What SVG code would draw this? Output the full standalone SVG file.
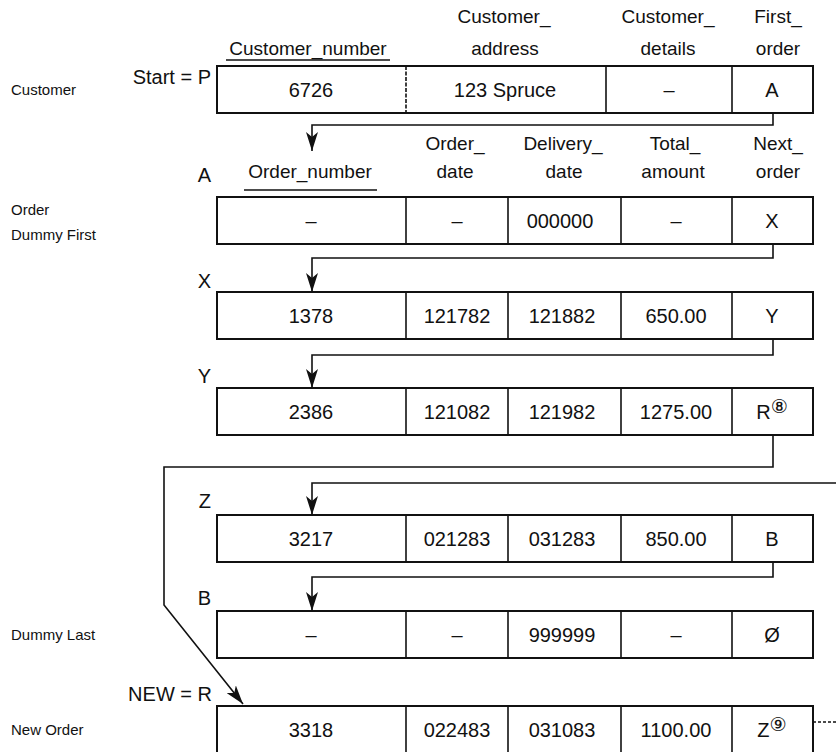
<svg xmlns="http://www.w3.org/2000/svg" width="836" height="752" viewBox="0 0 836 752">
<style>
text{font-family:"Liberation Sans",Arial,sans-serif;fill:#111}
.t{font-size:20px;text-anchor:middle}
.h{font-size:19px;text-anchor:middle}
.r{font-size:20px;text-anchor:end}
.l{font-size:15px}
.sup{font-family:"DejaVu Sans","Noto Sans CJK SC",sans-serif;font-size:19px}
.box{fill:#fff;stroke:#111;stroke-width:2}
.dv{stroke:#111;stroke-width:1.6}
.dash{stroke-dasharray:4 1.5}
.c{fill:none;stroke:#111;stroke-width:1.6}
</style>
<defs>
<marker id="av" markerUnits="userSpaceOnUse" markerWidth="20" markerHeight="12" viewBox="0 0 20 12" refX="19" refY="6" orient="auto">
<path d="M0,0 L19,6 L0,12 L5,6 Z" fill="#111"/>
</marker>
</defs>
<rect width="836" height="752" fill="#fff"/>

<g id="labels">
<text class="l" x="11" y="95">Customer</text>
<text class="l" x="11" y="215">Order</text>
<text class="l" x="11" y="240">Dummy First</text>
<text class="l" x="11" y="640">Dummy Last</text>
<text class="l" x="11" y="735">New Order</text>
</g>

<g id="customer-headers">
<text class="h" x="504" y="23">Customer_</text>
<text class="h" x="668" y="23">Customer_</text>
<text class="h" x="778" y="23">First_</text>
<text class="h" x="308" y="55">Customer_number</text>
<line class="dv" x1="226" y1="60" x2="390" y2="60"/>
<text class="h" x="505" y="55">address</text>
<text class="h" x="668" y="55">details</text>
<text class="h" x="778" y="55">order</text>
<text class="r" x="211" y="84">Start = P</text>
</g>

<g id="customer-P">
<rect class="box" x="217" y="66" width="596" height="47"/>
<line class="dv dash" x1="406" y1="66" x2="406" y2="113"/>
<line class="dv" x1="606" y1="66" x2="606" y2="113"/>
<line class="dv" x1="732" y1="66" x2="732" y2="113"/>
<text class="t" x="311" y="97">6726</text>
<text class="t" x="505" y="97">123 Spruce</text>
<text class="t" x="669" y="97">–</text>
<text class="t" x="772" y="97">A</text>
</g>

<g id="order-headers">
<text class="h" x="455" y="150">Order_</text>
<text class="h" x="563" y="150">Delivery_</text>
<text class="h" x="675" y="150">Total_</text>
<text class="h" x="778" y="150">Next_</text>
<text class="h" x="310" y="178">Order_number</text>
<line class="dv" x1="244" y1="190" x2="377" y2="190" stroke-width="1.2"/>
<text class="h" x="455" y="178">date</text>
<text class="h" x="564" y="178">date</text>
<text class="h" x="673" y="178">amount</text>
<text class="h" x="778" y="178">order</text>
<text class="r" x="211" y="182">A</text>
</g>

<g id="order-A">
<rect class="box" x="217" y="197" width="596" height="47"/>
<line class="dv" x1="406" y1="197" x2="406" y2="244"/>
<line class="dv" x1="508" y1="197" x2="508" y2="244"/>
<line class="dv" x1="621" y1="197" x2="621" y2="244"/>
<line class="dv" x1="732" y1="197" x2="732" y2="244"/>
<text class="t" x="311" y="228">–</text>
<text class="t" x="457" y="228">–</text>
<text class="t" x="560" y="228">000000</text>
<text class="t" x="676" y="228">–</text>
<text class="t" x="772" y="228">X</text>
</g>

<g id="order-X">
<text class="r" x="211" y="288">X</text>
<rect class="box" x="217" y="292" width="596" height="47"/>
<line class="dv" x1="406" y1="292" x2="406" y2="339"/>
<line class="dv" x1="508" y1="292" x2="508" y2="339"/>
<line class="dv" x1="621" y1="292" x2="621" y2="339"/>
<line class="dv" x1="732" y1="292" x2="732" y2="339"/>
<text class="t" x="311" y="323">1378</text>
<text class="t" x="457" y="323">121782</text>
<text class="t" x="562" y="323">121882</text>
<text class="t" x="676" y="323">650.00</text>
<text class="t" x="772" y="323">Y</text>
</g>

<g id="order-Y">
<text class="r" x="211" y="383">Y</text>
<rect class="box" x="217" y="388" width="596" height="47"/>
<line class="dv" x1="406" y1="388" x2="406" y2="435"/>
<line class="dv" x1="508" y1="388" x2="508" y2="435"/>
<line class="dv" x1="621" y1="388" x2="621" y2="435"/>
<line class="dv" x1="732" y1="388" x2="732" y2="435"/>
<text class="t" x="311" y="419">2386</text>
<text class="t" x="457" y="419">121082</text>
<text class="t" x="562" y="419">121982</text>
<text class="t" x="676" y="419">1275.00</text>
<text class="t" x="772" y="419">R<tspan class="sup" dy="-6">⑧</tspan></text>
</g>

<g id="order-Z">
<text class="r" x="211" y="508">Z</text>
<rect class="box" x="217" y="515" width="596" height="47"/>
<line class="dv" x1="406" y1="515" x2="406" y2="562"/>
<line class="dv" x1="508" y1="515" x2="508" y2="562"/>
<line class="dv" x1="621" y1="515" x2="621" y2="562"/>
<line class="dv" x1="732" y1="515" x2="732" y2="562"/>
<text class="t" x="311" y="546">3217</text>
<text class="t" x="457" y="546">021283</text>
<text class="t" x="562" y="546">031283</text>
<text class="t" x="676" y="546">850.00</text>
<text class="t" x="772" y="546">B</text>
</g>

<g id="order-B">
<text class="r" x="211" y="605">B</text>
<rect class="box" x="217" y="611" width="596" height="47"/>
<line class="dv" x1="406" y1="611" x2="406" y2="658"/>
<line class="dv" x1="508" y1="611" x2="508" y2="658"/>
<line class="dv" x1="621" y1="611" x2="621" y2="658"/>
<line class="dv" x1="732" y1="611" x2="732" y2="658"/>
<text class="t" x="311" y="642">–</text>
<text class="t" x="457" y="642">–</text>
<text class="t" x="562" y="642">999999</text>
<text class="t" x="676" y="642">–</text>
<text class="t" x="772" y="642">Ø</text>
</g>

<g id="order-R">
<text class="r" x="212" y="701">NEW = R</text>
<rect class="box" x="217" y="706" width="596" height="50"/>
<line class="dv" x1="406" y1="706" x2="406" y2="752"/>
<line class="dv" x1="508" y1="706" x2="508" y2="752"/>
<line class="dv" x1="621" y1="706" x2="621" y2="752"/>
<line class="dv" x1="732" y1="706" x2="732" y2="752"/>
<text class="t" x="311" y="737">3318</text>
<text class="t" x="457" y="737">022483</text>
<text class="t" x="562" y="737">031083</text>
<text class="t" x="676" y="737">1100.00</text>
<text class="t" x="772" y="737">Z<tspan class="sup" dy="-6">⑨</tspan></text>
</g>

<g id="connectors">
<path class="c" d="M773,113 V125 H312 V151" marker-end="url(#av)"/>
<path class="c" d="M773,244 V258 H312 V292" marker-end="url(#av)"/>
<path class="c" d="M773,339 V355 H312 V388" marker-end="url(#av)"/>
<path class="c" d="M773,435 V467 H164 V605 L243,704" marker-end="url(#av)"/>
<path class="c" d="M836,483 H312 V515" marker-end="url(#av)"/>
<path class="c" d="M773,562 V577 H312 V611" marker-end="url(#av)"/>
<path class="c" d="M813,722 H836" stroke-dasharray="3 2"/>
</g>
</svg>
